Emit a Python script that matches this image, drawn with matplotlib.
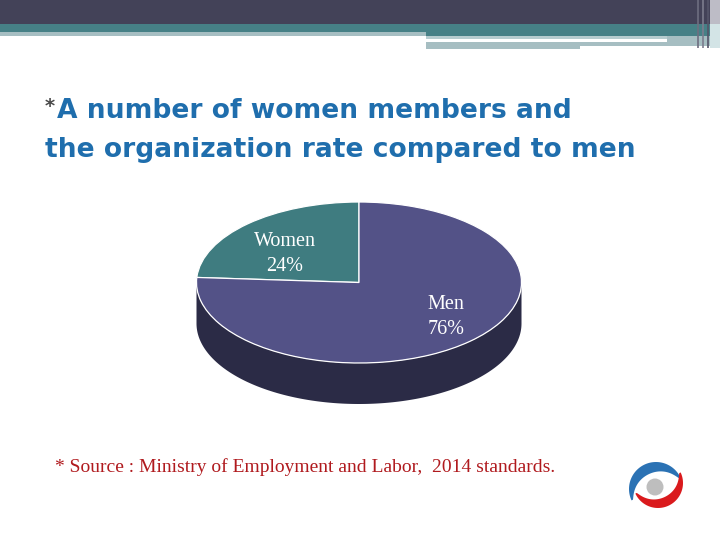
import numpy as np
import matplotlib
matplotlib.use("Agg")
import matplotlib.pyplot as plt
from matplotlib.patches import Wedge, Polygon, Rectangle, Circle
from matplotlib.transforms import Affine2D

# ── data ──────────────────────────────────────────────────────────────────────
labels = ["Women", "Men"]
shares = [24, 76]
colors_top = ["#3F7C80", "#535287"]
color_side = "#2B2B46"

TITLE_1 = "A number of women members and"
TITLE_2 = "the organization rate compared to men"
SOURCE = "* Source : Ministry of Employment and Labor,  2014 standards."

# ── canvas in pixel units ─────────────────────────────────────────────────────
W, H = 720, 540
fig = plt.figure(figsize=(7.2, 5.4), dpi=100)
ax = fig.add_axes([0, 0, 1, 1])
ax.set_xlim(0, W)
ax.set_ylim(H, 0)
ax.axis("off")

# ── slide header bands ────────────────────────────────────────────────────────
DARK = "#434258"
TEAL = "#468086"
PALE = "#A6BEC2"
ax.add_patch(Rectangle((0, 0), W, 24, color=DARK, lw=0))
ax.add_patch(Rectangle((0, 24), W, 8, color=TEAL, lw=0))
ax.add_patch(Rectangle((0, 32), 426, 4, color=PALE, lw=0))
ax.add_patch(Rectangle((426, 32), W - 426, 4, color=TEAL, lw=0))
ax.add_patch(Rectangle((426, 36), 284, 3, color="#B6CCCF", lw=0))
ax.add_patch(Rectangle((426, 42), 284, 4, color=PALE, lw=0))
ax.add_patch(Rectangle((426, 46), 154, 3, color=PALE, lw=0))
ax.add_patch(Rectangle((667, 36), 43, 10, color=PALE, lw=0))
# right-edge stripes
ax.add_patch(Rectangle((710, 0), 10, 24, color="#BDBCC6", lw=0))
ax.add_patch(Rectangle((710, 24), 10, 24, color="#D3E4E6", lw=0))
for x, c in [(698, "#6E6E80"), (703, "#7C7C8E"), (708, "#55556A")]:
    ax.plot([x, x], [0, 48], color=c, lw=1.2, solid_capstyle="butt")

# ── title ─────────────────────────────────────────────────────────────────────
title_kw = dict(fontsize=19.1, fontweight="bold", color="#1F6EAD",
                family="DejaVu Sans", va="baseline", ha="left")
ax.text(45, 112, "*", **{**title_kw, "color": "#4A4A4A", "fontsize": 14})
ax.text(57, 118, TITLE_1, **title_kw)
ax.text(45, 157, TITLE_2, **title_kw)

# ── 3D pie ────────────────────────────────────────────────────────────────────
cx, cy, a, b, depth = 359, 282.5, 162.5, 80.5, 41
ell = Affine2D().scale(a, -b).translate(cx, cy) + ax.transData

fracs = np.array(shares, dtype=float) / sum(shares)
starts = 90 + 360 * np.concatenate([[0], np.cumsum(fracs)[:-1]])
ends = starts + 360 * fracs

# side walls (front half only: 180..360)
for s, e in zip(starts, ends):
    lo, hi = max(s, 180), min(e, 360)
    if hi <= lo:
        continue
    t = np.radians(np.linspace(lo, hi, 200))
    top = np.column_stack([np.cos(t), np.sin(t)])
    bot = np.column_stack([np.cos(t[::-1]), np.sin(t[::-1]) - depth / b])
    ax.add_patch(Polygon(np.vstack([top, bot]), closed=True, transform=ell,
                         facecolor=color_side, edgecolor="none"))

# top faces
for s, e, c in zip(starts, ends, colors_top):
    ax.add_patch(Wedge((0, 0), 1, s, e, transform=ell, facecolor=c,
                       edgecolor="white", lw=0.9))

# labels
label_pos = [(285, 254), (446, 317)]
for (lx, ly), lab, sh in zip(label_pos, labels, shares):
    ax.text(lx, ly, f"{lab}\n{sh}%", color="white", fontsize=14.5,
            family="Liberation Serif", ha="center", va="center",
            linespacing=1.4)

# ── source note ───────────────────────────────────────────────────────────────
ax.text(55, 472, SOURCE, color="#B01A1E", fontsize=14.0,
        family="Liberation Serif", ha="left", va="baseline")

# ── logo ──────────────────────────────────────────────────────────────────────
def crescent(c, r_out, t0, t1, wmax, shift):
    t = np.radians(np.linspace(t0, t1, 80))
    w = wmax * np.sin(np.pi * (t - t[0]) / (t[-1] - t[0])) ** 0.8 + 1.5
    outer = np.column_stack([c[0] + r_out * np.cos(t), c[1] - r_out * np.sin(t)])
    ri = r_out - w
    inner = np.column_stack([c[0] + shift[0] + ri * np.cos(t),
                             c[1] + shift[1] - ri * np.sin(t)])
    return np.vstack([outer, inner[::-1]])

ax.add_patch(Polygon(crescent((656, 489), 27, 25, 205, 9, (0, 0)),
                     closed=True, facecolor="#2B72B4", edgecolor="none"))
ax.add_patch(Polygon(crescent((658, 483), 25, 205, 385, 8, (0, 0)),
                     closed=True, facecolor="#DA1A1D", edgecolor="none"))
ax.add_patch(Circle((655, 487), 8.5, facecolor="#BEBEBE", edgecolor="none"))

fig.savefig("out.png", dpi=100)
